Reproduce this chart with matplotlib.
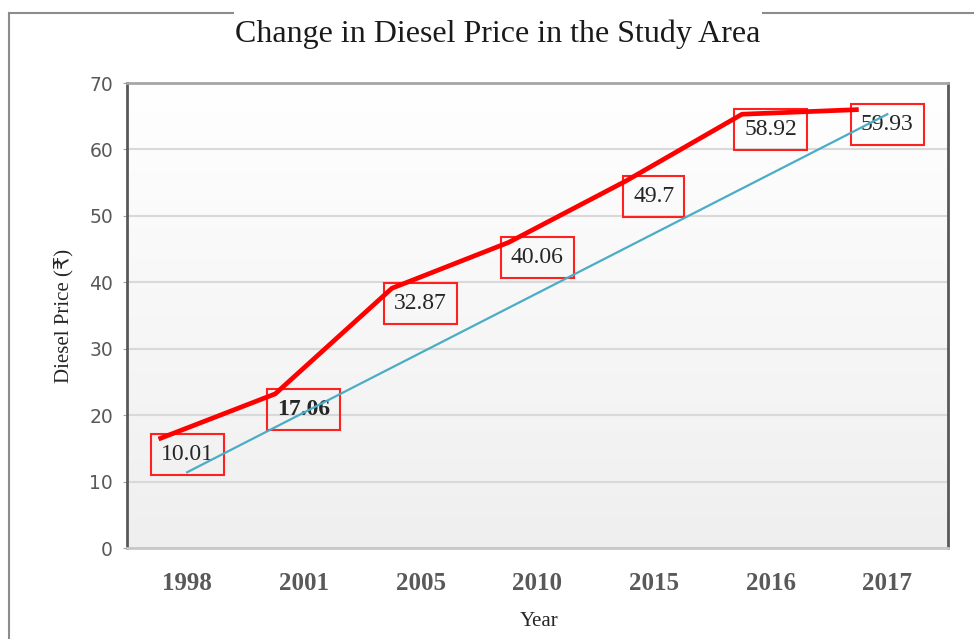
import numpy as np
import matplotlib
matplotlib.use("Agg")
import matplotlib.pyplot as plt
from matplotlib.lines import Line2D

# ---- data ----
years = ["1998", "2001", "2005", "2010", "2015", "2016", "2017"]
line_values = [16.4, 23.2, 39.1, 46.0, 55.2, 65.3, 66.0]
label_texts = ["10.01", "17.06", "32.87", "40.06", "49.7", "58.92", "59.93"]
label_bold = [False, True, False, False, False, False, False]
trend_positions = [0, 6]
trend_values = [11.4, 65.3]

title = "Change in Diesel Price in the Study Area"
ylabel = "Diesel Price (\u20b9)"
xlabel = "Year"

SERIF = ["Liberation Serif", "DejaVu Serif"]

fig = plt.figure(figsize=(9.74, 6.39), dpi=100)
fig.patch.set_facecolor("white")
ax = fig.add_axes([127 / 974, 1 - 548 / 639, (948 - 127) / 974, (548 - 83) / 639])

x = np.arange(len(years))
line_shift = -0.245

ax.set_xlim(-0.515, 6.52)
ax.set_ylim(0, 70)

# gradient background
grad = np.linspace(1.0, 0.0, 256).reshape(-1, 1)
cmap = matplotlib.colors.LinearSegmentedColormap.from_list("g", ["#efefef", "#ffffff"])
ax.imshow(grad, aspect="auto", cmap=cmap, extent=(0, 1, 0, 1),
          transform=ax.transAxes, zorder=0, origin="upper", vmin=0, vmax=1)

ax.set_yticks(np.arange(0, 71, 10))
ax.yaxis.grid(True, color="#d9d9d9", linewidth=1.5, zorder=1)
ax.set_axisbelow(True)

# trend line
ax.plot(trend_positions, trend_values, color="#4BACC6", linewidth=1.6, zorder=4)
# main line
ax.plot(x + line_shift, line_values, color="#FF0000", linewidth=3.4,
        solid_capstyle="butt", solid_joinstyle="round", zorder=5)

for i, (v, t, b) in enumerate(zip(line_values, label_texts, label_bold)):
    ax.annotate(t, xy=(i, v), xytext=(0, -11), textcoords="offset points",
                ha="center", va="center", fontsize=17, family=SERIF,
                fontweight="bold" if b else "normal", color="#262626",
                bbox=dict(boxstyle="square,pad=0.42", facecolor="none",
                          edgecolor="#FF2020", linewidth=1.5),
                zorder=3)

ax.set_xticks(x)
ax.set_xticklabels(years, fontsize=18, fontweight="bold", family=SERIF, color="#595959")
ax.tick_params(axis="x", length=0, pad=17)
ax.tick_params(axis="y", length=3, color="#a0a0a0", pad=7, labelsize=13.5,
               labelcolor="#595959")
for lab in ax.get_yticklabels():
    lab.set_family(["DejaVu Sans"])

for side, col in [("left", "#595959"), ("right", "#595959"),
                  ("top", "#a6a6a6"), ("bottom", "#c8c8c8")]:
    ax.spines[side].set_color(col)
    ax.spines[side].set_linewidth(2)

# texts
fig.text(498 / 974, 1 - 34 / 639, title, ha="center", va="center",
         fontsize=23, family=SERIF, color="#1a1a1a")
fig.text(64 / 974, 1 - 316 / 639, ylabel, ha="center", va="center",
         rotation=90, fontsize=15, family=["Liberation Serif", "DejaVu Sans"],
         color="#262626")
fig.text(539 / 974, 1 - 622 / 639, xlabel, ha="center", va="center",
         fontsize=15, family=SERIF, color="#262626")

# outer frame (fieldset-like)
frame_kw = dict(color="#8c8c8c", linewidth=1.5, transform=fig.transFigure)
fig.add_artist(Line2D([9 / 974, 233 / 974], [1 - 13 / 639, 1 - 13 / 639], **frame_kw))
fig.add_artist(Line2D([763 / 974, 1.0], [1 - 13 / 639, 1 - 13 / 639], **frame_kw))
fig.add_artist(Line2D([9 / 974, 9 / 974], [1 - 13 / 639, 0.0], **frame_kw))

fig.savefig("out.png", dpi=100)
